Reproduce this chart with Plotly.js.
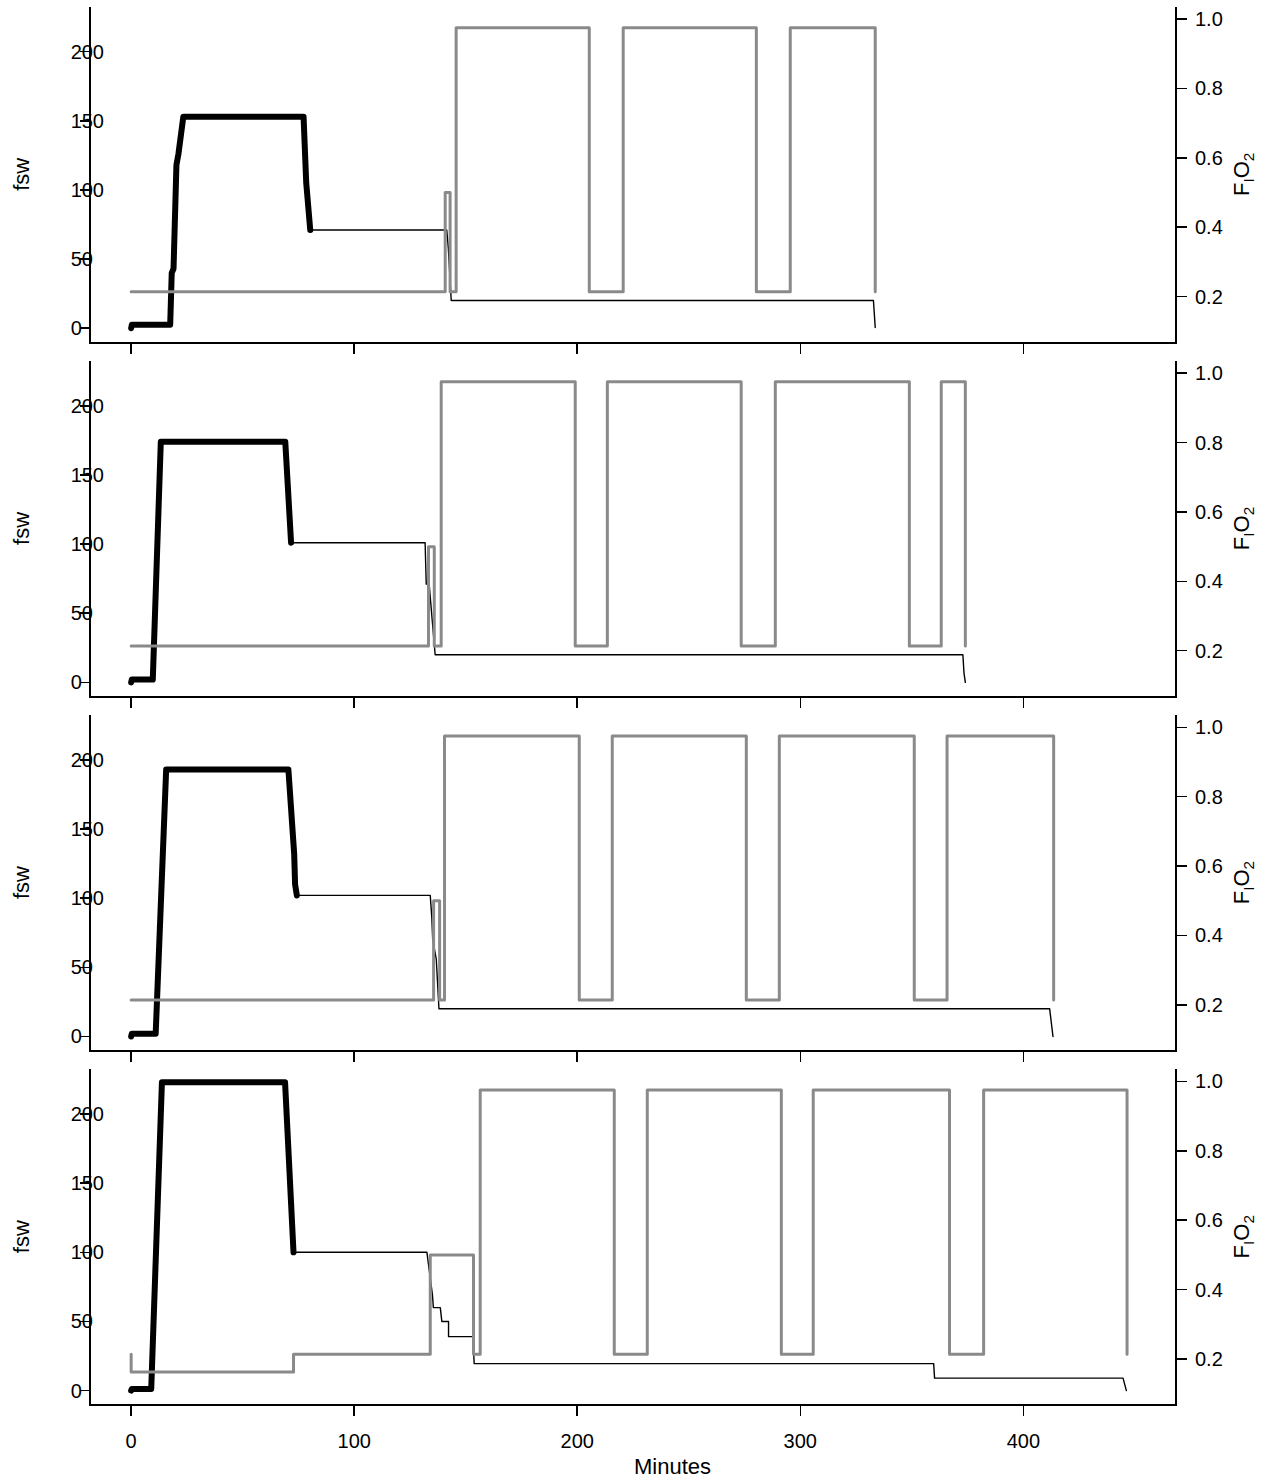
<!DOCTYPE html>
<html><head><meta charset="utf-8">
<script src="https://cdn.plot.ly/plotly-3.0.1.min.js"></script>
<style>
html,body{margin:0;padding:0;background:#fff}
#chart{width:1268px;height:1481px}
#chart path.js-line{stroke-linejoin:round;stroke-linecap:round}
</style>
</head><body><div id="chart"></div>
<script>
// ---------- tick labels ----------
const xTicks = [0, 100, 200, 300, 400];
const depthTicks = [0, 50, 100, 150, 200];
const depthTickText = ['0\u2007\u2007', '50\u2007', '100', '150', '200'];
const fioTicks = [0.2, 0.4, 0.6, 0.8, 1.0];
const fioTickText = ['0.2', '0.4', '0.6', '0.8', '1.0'];

// ---------- panel 1 ----------
const p1BottomT = [0, 0.3, 17.5, 18.2, 19.0, 20.3, 21.2, 23.4, 77.3, 78.5, 80.3];
const p1BottomD = [0, 2.5, 2.5, 40, 43, 118, 126, 153, 153, 105, 71];
const p1DecoT = [80.3, 141.5, 142.2, 143.5, 332.8, 333.6];
const p1DecoD = [71, 71, 58, 20, 20, 0.5];
const p1FiT = [0, 140.8, 143.0, 145.7, 205.4, 220.6, 280.3, 295.5, 333.6];
const p1FiV = [0.214, 0.5, 0.214, 0.975, 0.214, 0.975, 0.214, 0.975, 0.214];

// ---------- panel 2 ----------
const p2BottomT = [0, 0.3, 9.7, 13.3, 69.1, 71.7];
const p2BottomD = [0, 2, 2, 174, 174, 101];
const p2DecoT = [71.7, 131.8, 132.3, 133.6, 136.3, 372.9, 373.4, 374.0];
const p2DecoD = [101, 101, 71, 71, 20, 20, 6.7, 0];
const p2FiT = [0, 133.3, 135.9, 139.0, 199.1, 213.5, 273.5, 288.8, 348.9, 363.2, 374.0];
const p2FiV = [0.214, 0.5, 0.214, 0.975, 0.214, 0.975, 0.214, 0.975, 0.214, 0.975, 0.214];

// ---------- panel 3 ----------
const p3BottomT = [0, 0.3, 11.0, 13.0, 15.7, 70.5, 71.3, 72.0, 73.1, 73.5, 74.3];
const p3BottomD = [0, 2, 2, 95, 193, 193, 175, 156, 132, 110, 102];
const p3DecoT = [74.3, 134.1, 134.8, 135.2, 136.8, 137.4, 138.0, 411.8, 413.3];
const p3DecoD = [102, 102, 86, 70, 56, 39, 20, 20, 0];
const p3FiT = [0, 135.6, 138.3, 140.5, 200.9, 215.7, 275.8, 290.6, 351.1, 365.8, 413.6];
const p3FiV = [0.214, 0.5, 0.214, 0.975, 0.214, 0.975, 0.214, 0.975, 0.214, 0.975, 0.214];

// ---------- panel 4 ----------
const p4BottomT = [0, 0.3, 9.0, 11.3, 13.8, 69.0, 72.8];
const p4BottomD = [0, 1.2, 1.2, 110, 223, 223, 100];
const p4DecoT = [72.8, 132.6, 135.1, 135.5, 138.6, 139.3, 142.3, 142.3, 153.2, 153.8, 359.8, 360.2, 444.7, 446.2];
const p4DecoD = [100, 100, 69, 60, 60, 50, 50, 39, 39, 19.5, 19.5, 9, 9, 0];
const p4FiT = [0, 0, 72.8, 134.1, 153.5, 156.5, 216.6, 231.4, 291.5, 305.8, 366.9, 382.2, 446.5];
const p4FiV = [0.214, 0.1625, 0.214, 0.5, 0.214, 0.975, 0.214, 0.975, 0.214, 0.975, 0.214, 0.975, 0.214];

const panels = [
  {bt: p1BottomT, bd: p1BottomD, dt: p1DecoT, dd: p1DecoD, ft: p1FiT, fv: p1FiV},
  {bt: p2BottomT, bd: p2BottomD, dt: p2DecoT, dd: p2DecoD, ft: p2FiT, fv: p2FiV},
  {bt: p3BottomT, bd: p3BottomD, dt: p3DecoT, dd: p3DecoD, ft: p3FiT, fv: p3FiV},
  {bt: p4BottomT, bd: p4BottomD, dt: p4DecoT, dd: p4DecoD, ft: p4FiT, fv: p4FiV}
];

const FONT = 'Liberation Sans, Arial, Helvetica, sans-serif';
const domains = [[0.76047, 1], [0.50698, 0.74651], [0.25349, 0.49302], [0, 0.23953]];
const traces = [];
const layout = {
  width: 1268, height: 1481,
  margin: {l: 91, r: 93, t: 7, b: 77},
  paper_bgcolor: '#fff', plot_bgcolor: '#fff',
  showlegend: false, hovermode: false,
  font: {family: FONT, size: 20, color: '#000'},
  annotations: [{
    text: 'Minutes', xref: 'paper', yref: 'paper', x: 0.536, y: -0.0449,
    xanchor: 'center', yanchor: 'middle', showarrow: false,
    font: {family: FONT, size: 22, color: '#000'}
  }]
};

panels.forEach((p, k) => {
  const xid = k === 0 ? 'x' : 'x' + (k + 1);
  const yl = k === 0 ? 'y' : 'y' + (2 * k + 1);
  const yr = 'y' + (2 * k + 2);
  traces.push({x: p.dt, y: p.dd, xaxis: xid, yaxis: yl, mode: 'lines',
    line: {color: '#000', width: 1.4}});
  traces.push({x: p.bt, y: p.bd, xaxis: xid, yaxis: yl, mode: 'lines',
    line: {color: '#000', width: 6}});
  traces.push({x: p.ft, y: p.fv, xaxis: xid, yaxis: yr, mode: 'lines',
    line: {color: '#8a8a8a', width: 3, shape: 'hv'}});

  layout['xaxis' + (k === 0 ? '' : k + 1)] = {
    domain: [0, 1], anchor: yl, range: [-18, 468],
    tickmode: 'array', tickvals: xTicks, ticktext: xTicks.map(String),
    ticks: 'outside', ticklen: 10, tickwidth: 1.5, tickcolor: '#000',
    showline: true, linewidth: 2, linecolor: '#000',
    showgrid: false, zeroline: false,
    showticklabels: k === 3, ticklabelstandoff: 8,
    tickfont: {family: FONT, size: 20, color: '#000'}
  };
  layout['yaxis' + (k === 0 ? '' : 2 * k + 1)] = {
    domain: domains[k], anchor: xid, range: [-9.7, 232.3],
    tickmode: 'array', tickvals: depthTicks, ticktext: depthTickText,
    ticks: 'outside', ticklen: 9, tickwidth: 1.5, tickcolor: '#000',
    showline: true, linewidth: 2, linecolor: '#000',
    showgrid: false, zeroline: false, ticklabelstandoff: -28,
    tickfont: {family: FONT, size: 20, color: '#000'},
    title: {text: 'fsw', font: {family: FONT, size: 22, color: '#000'}, standoff: 35}
  };
  layout['yaxis' + (2 * k + 2)] = {
    domain: domains[k], anchor: xid, overlaying: yl, side: 'right', range: [0.0703, 1.0346],
    tickmode: 'array', tickvals: fioTicks, ticktext: fioTickText,
    ticks: 'outside', ticklen: 10, tickwidth: 1.5, tickcolor: '#000',
    showline: true, linewidth: 2, linecolor: '#000',
    showgrid: false, zeroline: false, ticklabelstandoff: 4,
    tickfont: {family: FONT, size: 20, color: '#000'},
    title: {text: 'F<sub>I</sub>O<sub>2</sub>', font: {family: FONT, size: 22, color: '#000'}, standoff: 12}
  };
});

Plotly.newPlot('chart', traces, layout, {staticPlot: true, displayModeBar: false});
</script></body></html>
